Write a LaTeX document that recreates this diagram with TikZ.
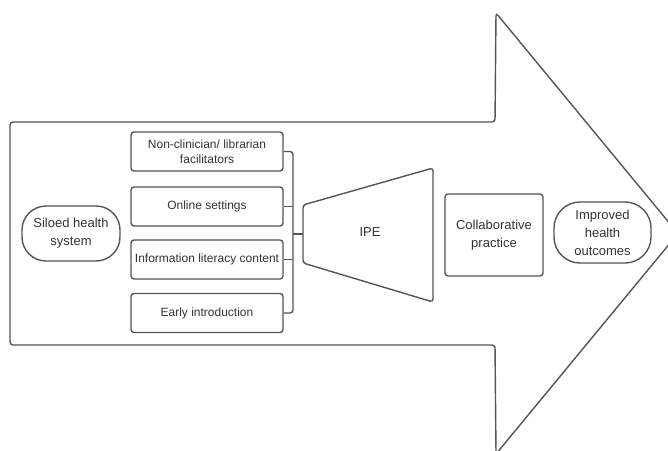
\documentclass[tikz,border=0pt]{standalone}
\usepackage{fontspec}
\setmainfont{Liberation Sans}
\usetikzlibrary{calc}
\definecolor{ln}{HTML}{555555}
\definecolor{tx}{HTML}{333333}
\begin{document}
\begin{tikzpicture}[x=1pt,y=-1pt,
  lnc/.style={draw=ln, line width=1.4pt},
  boxa/.style={lnc, rounded corners=3pt, minimum width=152pt, minimum height=39pt, inner sep=1pt, align=center, text=tx, font=\fontsize{12}{15.5}\selectfont},
  bigtxt/.style={text=tx, align=center, font=\fontsize{13}{18}\selectfont},
  stad/.style={lnc, bigtxt, inner sep=0pt},
  conn/.style={draw=ln, line width=1.4pt},
]
\useasboundingbox (0,0) rectangle (668,450);
\clip (0,0) rectangle (668,450);
% big arrow
\draw[conn, rounded corners=3pt]
  (10,122) -- (495,122) -- (496,13) -- (678,233.5) -- (496,454) -- (495,345) -- (10,345) -- cycle;
% siloed
\node[stad, rounded corners=24pt, minimum width=98pt, minimum height=55pt] (silo) at (71,233.5) {Siloed health\\system};
% boxes
\node[boxa] (b1) at (207,151.5) {Non-clinician/ librarian\\facilitators};
\node[boxa] (b2) at (207,206.5) {Online settings};
\node[boxa] (b3) at (207,259.5) {Information literacy content};
\node[boxa] (b4) at (207,313) {Early introduction};
% trapezoid IPE
\coordinate (t1) at (303,205);
\coordinate (t2) at (433,168);
\coordinate (t3) at (433,302);
\coordinate (t4) at (303,263);
\draw[conn, rounded corners=3pt] (t1) -- (t2) -- (t3) -- (t4) -- cycle;
\coordinate (ipeW) at (303,234);
\node[bigtxt] (ipe) at (370,232) {IPE};
% bracket
\coordinate (brk) at (293,0);
\draw[conn, rounded corners=3pt] (b1.east) -- (b1.east -| brk) -- (b4.east -| brk) -- (b4.east);
\draw[conn] (b2.east) -- (b2.east -| brk);
\draw[conn] (b3.east) -- (b3.east -| brk);
\draw[conn] (ipeW -| brk) -- (ipeW);
% collaborative
\node[lnc, bigtxt, rounded corners=3pt, minimum width=98pt, minimum height=82pt, inner sep=0pt] (col) at (494,235) {Collaborative\\practice};
% improved
\node[stad, rounded corners=26pt, minimum width=97pt, minimum height=61pt] (imp) at (602.5,232.5) {Improved\\health\\outcomes};
\end{tikzpicture}
\end{document}
